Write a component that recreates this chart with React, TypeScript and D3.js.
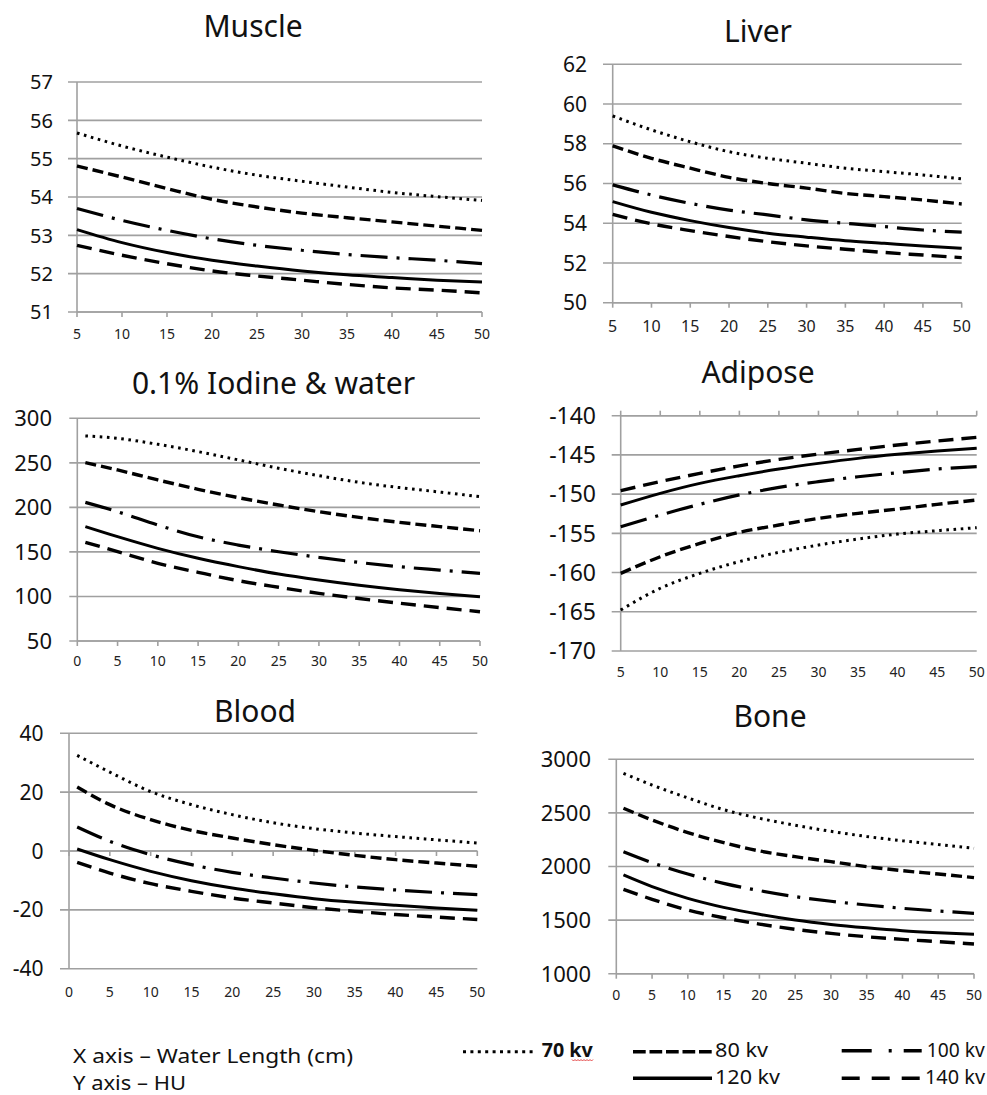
import React from 'react';
import * as d3 from 'd3';

// ---------- data ----------
const kvLabels = ['70 kv', '80 kv', '100 kv', '120 kv', '140 kv'];
const waterLengthFrom5 = [5, 10, 15, 20, 25, 30, 35, 40, 45, 50];
const waterLengthFrom1 = [1, 5, 10, 15, 20, 25, 30, 35, 40, 45, 50];

const xTicksFrom5 = [5, 10, 15, 20, 25, 30, 35, 40, 45, 50];
const xTicksFrom0 = [0, 5, 10, 15, 20, 25, 30, 35, 40, 45, 50];

const muscleTicks = [51, 52, 53, 54, 55, 56, 57];
const liverTicks = [50, 52, 54, 56, 58, 60, 62];
const iodineTicks = [50, 100, 150, 200, 250, 300];
const adiposeTicks = [-170, -165, -160, -155, -150, -145, -140];
const bloodTicks = [-40, -20, 0, 20, 40];
const boneTicks = [1000, 1500, 2000, 2500, 3000];

// rows: 70, 80, 100, 120, 140 kv
const muscleHU = [
  [55.67, 55.33, 55.04, 54.78, 54.57, 54.41, 54.26, 54.12, 54.01, 53.91],
  [54.81, 54.52, 54.22, 53.94, 53.74, 53.58, 53.46, 53.35, 53.24, 53.13],
  [53.7, 53.39, 53.13, 52.91, 52.74, 52.61, 52.5, 52.42, 52.35, 52.26],
  [53.15, 52.81, 52.55, 52.35, 52.2, 52.07, 51.97, 51.9, 51.83, 51.78],
  [52.74, 52.48, 52.26, 52.07, 51.94, 51.83, 51.72, 51.63, 51.57, 51.5],
];
const liverHU = [
  [59.4, 58.7, 58.1, 57.6, 57.27, 57.02, 56.77, 56.6, 56.43, 56.23],
  [57.9, 57.27, 56.77, 56.31, 56.0, 55.77, 55.5, 55.34, 55.17, 54.97],
  [55.93, 55.42, 55.0, 54.66, 54.42, 54.17, 54.0, 53.83, 53.66, 53.55],
  [55.09, 54.55, 54.13, 53.78, 53.5, 53.3, 53.12, 52.99, 52.86, 52.74],
  [54.45, 53.97, 53.63, 53.33, 53.07, 52.86, 52.69, 52.53, 52.4, 52.27],
];
const iodineHU = [
  [280.2, 277.5, 270.8, 262.6, 253.3, 243.9, 235.6, 228.1, 222.2, 217.2, 212],
  [250.2, 242, 230.8, 220.3, 210.9, 202.7, 195.1, 188.8, 183.2, 178.4, 173.8],
  [205.6, 195.1, 180.2, 167, 157.7, 150.2, 143.9, 138.2, 133.4, 129.6, 125.9],
  [178.4, 167.1, 154, 142.8, 133.5, 125.2, 118.5, 112.6, 107.6, 103.4, 99.8],
  [160.8, 150.3, 137.2, 127.1, 117.7, 110.3, 103.5, 97.7, 92.4, 87.5, 82.9],
];
const adiposeHU = [
  [-164.78, -162.0, -160.1, -158.6, -157.42, -156.49, -155.72, -155.09, -154.66, -154.28],
  [-160.1, -157.98, -156.28, -154.87, -153.94, -153.09, -152.45, -151.9, -151.3, -150.75],
  [-154.15, -152.67, -151.3, -150.1, -149.14, -148.41, -147.78, -147.27, -146.8, -146.5],
  [-151.39, -149.9, -148.63, -147.65, -146.8, -146.08, -145.44, -144.93, -144.5, -144.16],
  [-149.56, -148.4, -147.35, -146.4, -145.57, -144.9, -144.3, -143.74, -143.23, -142.76],
];
const bloodHU = [
  [32.5, 26.8, 20.2, 15.75, 12.35, 9.6, 7.6, 6.1, 4.9, 3.8, 2.7],
  [21.76, 15.75, 10.65, 7.0, 4.42, 2.15, 0.23, -1.47, -2.95, -4.08, -5.2],
  [8.16, 3.29, -1.25, -4.65, -7.25, -9.18, -10.88, -12.24, -13.24, -14.1, -14.84],
  [0.68, -2.95, -6.91, -10.08, -12.58, -14.5, -16.2, -17.45, -18.47, -19.38, -20.17],
  [-3.85, -7.48, -11.1, -13.7, -15.97, -17.67, -19.27, -20.5, -21.6, -22.45, -23.3],
];
const boneHU = [
  [2869, 2760, 2640, 2530, 2450, 2385, 2328, 2280, 2240, 2205, 2170],
  [2543, 2434, 2316, 2223, 2145, 2092, 2045, 1999, 1961, 1930, 1896],
  [2138, 2036, 1930, 1843, 1775, 1719, 1676, 1641, 1610, 1585, 1563],
  [1921, 1812, 1703, 1619, 1554, 1501, 1460, 1428, 1401, 1382, 1367],
  [1787, 1694, 1594, 1522, 1463, 1414, 1376, 1345, 1320, 1299, 1277],
];

// ---------- styles ----------
const FONT = '"Noto Sans", "Open Sans", sans-serif';
const GRID = '#a0a0a0';
const INK = '#111';
const kvDash = ['2.6 4.6', '11 5', '27 9 3 9', '', '15 8'];
const kvWidth = [3, 3.4, 3.2, 3, 3.4];

type Spec = {
  title: string;
  xs: number[];
  values: number[][];
  yTicks: number[];
  xTicks: number[];
  xDomain: [number, number];
  left: number; right: number; top: number; bottom: number;
  titleX: number; titleY: number;
  yLabelX: number; yFont: number; gridStart: number;
  xLabelY: number; xFont: number;
  axisAt: 'bottom' | 'top' | 'zero';
};

const specs: Spec[] = [
  {
    title: 'Muscle', xs: waterLengthFrom5, values: muscleHU, yTicks: muscleTicks, xTicks: xTicksFrom5,
    xDomain: [5, 50], left: 77, right: 482, top: 82, bottom: 312,
    titleX: 253, titleY: 37, yLabelX: 53, yFont: 20, gridStart: 68, xLabelY: 334, xFont: 14, axisAt: 'bottom',
  },
  {
    title: 'Liver', xs: waterLengthFrom5, values: liverHU, yTicks: liverTicks, xTicks: xTicksFrom5,
    xDomain: [5, 50], left: 612.7, right: 961.7, top: 64.3, bottom: 302.7,
    titleX: 758, titleY: 42, yLabelX: 587, yFont: 21, gridStart: 603, xLabelY: 326, xFont: 16, axisAt: 'bottom',
  },
  {
    title: '0.1% Iodine & water', xs: waterLengthFrom1, values: iodineHU, yTicks: iodineTicks, xTicks: xTicksFrom0,
    xDomain: [0, 50], left: 77.3, right: 480, top: 418.3, bottom: 641,
    titleX: 273.5, titleY: 394.3, yLabelX: 52, yFont: 22, gridStart: 69.3, xLabelY: 661, xFont: 14, axisAt: 'bottom',
  },
  {
    title: 'Adipose', xs: waterLengthFrom5, values: adiposeHU, yTicks: adiposeTicks, xTicks: xTicksFrom5,
    xDomain: [5, 50], left: 620.7, right: 976.7, top: 415.7, bottom: 651,
    titleX: 758, titleY: 383.3, yLabelX: 596, yFont: 23, gridStart: 611.7, xLabelY: 672, xFont: 14, axisAt: 'top',
  },
  {
    title: 'Blood', xs: waterLengthFrom1, values: bloodHU, yTicks: bloodTicks, xTicks: xTicksFrom0,
    xDomain: [0, 50], left: 69, right: 477.3, top: 733.3, bottom: 968.7,
    titleX: 255, titleY: 722.3, yLabelX: 43.5, yFont: 21, gridStart: 60, xLabelY: 991.7, xFont: 14, axisAt: 'zero',
  },
  {
    title: 'Bone', xs: waterLengthFrom1, values: boneHU, yTicks: boneTicks, xTicks: xTicksFrom0,
    xDomain: [0, 50], left: 616.3, right: 974, top: 759.3, bottom: 973.7,
    titleX: 770, titleY: 726.7, yLabelX: 591, yFont: 22, gridStart: 608.3, xLabelY: 995, xFont: 14, axisAt: 'bottom',
  },
];

function Panel({ s }: { s: Spec }) {
  const yDomain = d3.extent(s.yTicks) as [number, number];
  const x = d3.scaleLinear().domain(s.xDomain).range([s.left, s.right]);
  const y = d3.scaleLinear().domain(yDomain).range([s.bottom, s.top]);
  const line = d3
    .line<number>()
    .x((_, i) => x(s.xs[i]))
    .y((d) => y(d))
    .curve(d3.curveMonotoneX);
  const axisY = s.axisAt === 'top' ? s.top : s.axisAt === 'zero' ? y(0) : s.bottom;
  const tickDir = s.axisAt === 'top' ? -1 : 1;
  return (
    <g>
      <text x={s.titleX} y={s.titleY} textAnchor="middle" fontSize={30} fill={INK} fontFamily={FONT}>
        {s.title}
      </text>
      {s.yTicks.map((t) => (
        <line key={'g' + t} x1={s.gridStart} x2={s.right} y1={y(t)} y2={y(t)} stroke={GRID} strokeWidth={1.6} />
      ))}
      <line x1={s.left} x2={s.left} y1={s.top} y2={s.bottom} stroke={GRID} strokeWidth={1.6} />
      <line x1={s.left} x2={s.right} y1={axisY} y2={axisY} stroke={GRID} strokeWidth={1.6} />
      {s.xTicks.map((t) => (
        <line key={'t' + t} x1={x(t)} x2={x(t)} y1={axisY} y2={axisY + tickDir * 5} stroke={GRID} strokeWidth={1.6} />
      ))}
      {s.yTicks.map((t) => (
        <text key={'yl' + t} x={s.yLabelX} y={y(t)} dy="0.36em" textAnchor="end" fontSize={s.yFont} fill={INK} fontFamily={FONT}>
          {t}
        </text>
      ))}
      {s.xTicks.map((t) => (
        <text key={'xl' + t} x={x(t)} y={s.xLabelY} dy="0.36em" textAnchor="middle" fontSize={s.xFont} fill="#222" fontFamily={FONT}>
          {t}
        </text>
      ))}
      {s.values.map((vals, i) => (
        <path
          key={kvLabels[i]}
          d={line(vals) || ''}
          fill="none"
          stroke="#000"
          strokeWidth={kvWidth[i]}
          strokeDasharray={kvDash[i] || undefined}
        />
      ))}
    </g>
  );
}

// legend layout: [lineX1, lineX2, lineY, textX, textBaseline, textWidth]
const legendPos = [
  [463, 537, 1051.7, 541.7, 1056.7, 51],
  [633, 712, 1051.7, 715, 1056.7, 53],
  [841.7, 922, 1050.7, 926.7, 1056.7, 58],
  [633, 712, 1078.3, 715, 1083.5, 65],
  [841.7, 920, 1078.3, 925, 1083.5, 60],
];
const legendDash = ['3 4.4', '12.7 3.8', '30 17 3 12 18', '', '18 12'];

function squiggle(x0: number, x1: number, yy: number) {
  const pts: [number, number][] = [];
  for (let xx = x0, k = 0; xx <= x1; xx += 1.5, k++) pts.push([xx, yy + (k % 2 === 0 ? 0 : 1.5)]);
  return d3.line()(pts) || '';
}

export default function App() {
  return (
    <svg
      width={987}
      height={1095}
      viewBox="0 0 987 1095"
      style={{ position: 'absolute', left: 0, top: 0, background: '#fff' }}
      fontFamily={FONT}
    >
      <rect width={987} height={1095} fill="#fff" />
      {specs.map((s) => (
        <Panel key={s.title} s={s} />
      ))}
      <text x={73} y={1063} fontSize={20} fill={INK} textLength={280} lengthAdjust="spacingAndGlyphs">
        X axis – Water Length (cm)
      </text>
      <text x={73} y={1089.5} fontSize={19} fill={INK} textLength={113} lengthAdjust="spacingAndGlyphs">
        Y axis – HU
      </text>
      {kvLabels.map((lab, i) => {
        const [lx1, lx2, ly, tx, ty, tw] = legendPos[i];
        return (
          <g key={lab}>
            <line x1={lx1} x2={lx2} y1={ly} y2={ly} stroke="#000" strokeWidth={i === 0 ? 3 : 3.6} strokeDasharray={legendDash[i] || undefined} />
            <text x={tx} y={ty} fontSize={19} fontWeight={i === 0 ? 700 : 400} fill={INK} textLength={tw} lengthAdjust="spacingAndGlyphs">
              {lab}
            </text>
          </g>
        );
      })}
      <path d={squiggle(572, 593, 1059.5)} fill="none" stroke="#e03030" strokeWidth={0.9} />
    </svg>
  );
}
